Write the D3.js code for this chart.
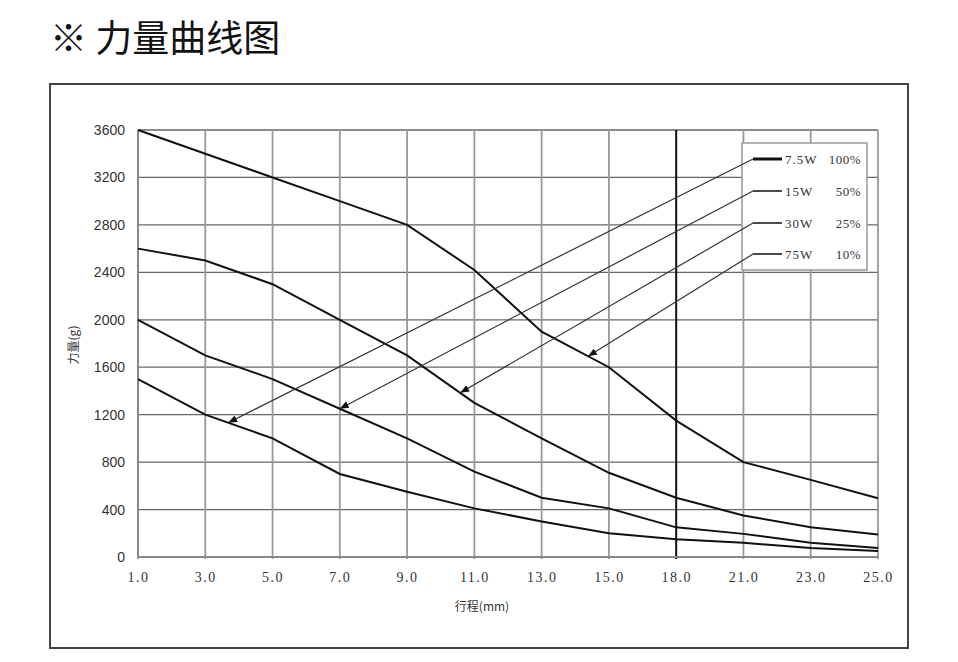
<!DOCTYPE html>
<html><head><meta charset="utf-8">
<script src="https://cdn.jsdelivr.net/npm/d3@7/dist/d3.min.js"></script>
<style>body{margin:0;background:#fff}</style>
</head><body>
<svg id="c" width="958" height="662"></svg>
<script>
const strokeCats = ["1.0","3.0","5.0","7.0","9.0","11.0","13.0","15.0","18.0","21.0","23.0","25.0"];
const yTicks = [0,400,800,1200,1600,2000,2400,2800,3200,3600];
const s75W  = [3600,3400,3200,3000,2800,2420,1900,1600,1150,800,650,495];
const s30W  = [2600,2500,2300,2000,1700,1300,1000,710,500,350,250,190];
const s15W  = [2000,1700,1500,1250,1000,720,500,410,250,195,120,75];
const s7_5W = [1500,1200,1000,700,550,410,300,200,150,120,75,50];
const legendLabels = [["7.5W","100%"],["15W","50%"],["30W","25%"],["75W","10%"]];
const legendSeries = [s7_5W, s15W, s30W, s75W];
// arrow targets: fractional category index along each series
const arrowAt = [1.34, 3.0, 4.79, 6.69];

const svg = d3.select("#c");
const x = d3.scaleLinear().domain([0, strokeCats.length-1]).range([138, 878]);
const y = d3.scaleLinear().domain([0, 3600]).range([557, 130]);

// title
svg.append("text").attr("x",50).attr("y",52).attr("font-family","Noto Sans CJK SC")
  .attr("font-size",37).attr("font-weight",400).attr("fill","#111").text("※ 力量曲线图");
// outer frame
svg.append("rect").attr("x",50).attr("y",84).attr("width",858).attr("height",564)
  .attr("fill","none").attr("stroke","#444").attr("stroke-width",2);

// grid
const g = svg.append("g");
g.selectAll(".hg").data(yTicks).join("line")
  .attr("x1",x(0)).attr("x2",x(11)).attr("y1",d=>y(d)).attr("y2",d=>y(d))
  .attr("stroke","#666").attr("stroke-width",1.3);
g.selectAll(".vg").data(strokeCats).join("line")
  .attr("x1",(d,i)=>x(i)).attr("x2",(d,i)=>x(i)).attr("y1",y(3600)).attr("y2",y(0)+2)
  .attr("stroke",d=>d==="18.0"?"#111":"#999").attr("stroke-width",d=>d==="18.0"?2:1.8);
g.append("line").attr("x1",x(0)).attr("x2",x(11)).attr("y1",y(0)).attr("y2",y(0))
  .attr("stroke","#888").attr("stroke-width",2);
g.append("line").attr("x1",x(0)).attr("x2",x(0)).attr("y1",y(3600)).attr("y2",y(0))
  .attr("stroke","#888").attr("stroke-width",2);

// y ticks
const yAxis = svg.append("g").attr("transform","translate(125,0)")
  .call(d3.axisLeft(y).tickValues(yTicks).tickFormat(d3.format("d")).tickSize(0).tickPadding(0));
yAxis.select(".domain").remove();
yAxis.selectAll("text").attr("font-family","Liberation Sans").attr("font-size",14).attr("fill","#333");
// x ticks
const xAxis = svg.append("g").attr("transform","translate(0,572)")
  .call(d3.axisBottom(x).tickValues(d3.range(strokeCats.length)).tickFormat(i=>strokeCats[i]).tickSize(0).tickPadding(0));
xAxis.select(".domain").remove();
xAxis.selectAll("text").attr("font-family","Liberation Serif").attr("font-size",14)
  .attr("letter-spacing",1.5).attr("fill","#333");

// axis titles
svg.append("text").attr("x",482).attr("y",611).attr("text-anchor","middle")
  .attr("font-family","Noto Sans CJK SC").attr("font-size",12).attr("fill","#333").text("行程(mm)");
svg.append("text").attr("transform","translate(78,345) rotate(-90)").attr("text-anchor","middle")
  .attr("font-family","Noto Sans CJK SC").attr("font-size",12).attr("fill","#333").text("力量(g)");

// curves
const line = d3.line().x((d,i)=>x(i)).y(d=>y(d));
svg.selectAll(".curve").data([s75W,s30W,s15W,s7_5W]).join("path")
  .attr("d",line).attr("fill","none").attr("stroke","#111").attr("stroke-width",2);

// legend box
svg.append("rect").attr("x",742).attr("y",143).attr("width",125).attr("height",127)
  .attr("fill","#fff").attr("stroke","#999").attr("stroke-width",1.5);
const rowsY = [159,191,223,254];
svg.append("defs").append("marker").attr("id","ah").attr("viewBox","0 0 10 10")
  .attr("refX",10).attr("refY",5).attr("markerWidth",9).attr("markerHeight",9)
  .attr("markerUnits","userSpaceOnUse").attr("orient","auto")
  .append("path").attr("d","M0,1 L10,5 L0,9 Z").attr("fill","#111");
legendLabels.forEach((lab,k)=>{
  const ry = rowsY[k];
  svg.append("line").attr("x1",753).attr("x2",782).attr("y1",ry).attr("y2",ry)
    .attr("stroke","#111").attr("stroke-width",k===0?3:1.5);
  svg.append("text").attr("x",785).attr("y",ry+5).attr("font-family","Liberation Serif")
    .attr("font-size",13).attr("letter-spacing",1).attr("fill","#333").text(lab[0]);
  svg.append("text").attr("x",861).attr("y",ry+5).attr("text-anchor","end").attr("font-family","Liberation Serif")
    .attr("font-size",13).attr("letter-spacing",0.5).attr("fill","#333").text(lab[1]);
  const ser = legendSeries[k], t = arrowAt[k], i0 = Math.floor(t), f = t - i0;
  const v = ser[i0] + (ser[Math.min(i0+1,ser.length-1)] - ser[i0]) * f;
  svg.append("line").attr("x1",753).attr("y1",ry).attr("x2",x(t)).attr("y2",y(v))
    .attr("stroke","#333").attr("stroke-width",1.2).attr("marker-end","url(#ah)");
});
</script>
</body></html>
